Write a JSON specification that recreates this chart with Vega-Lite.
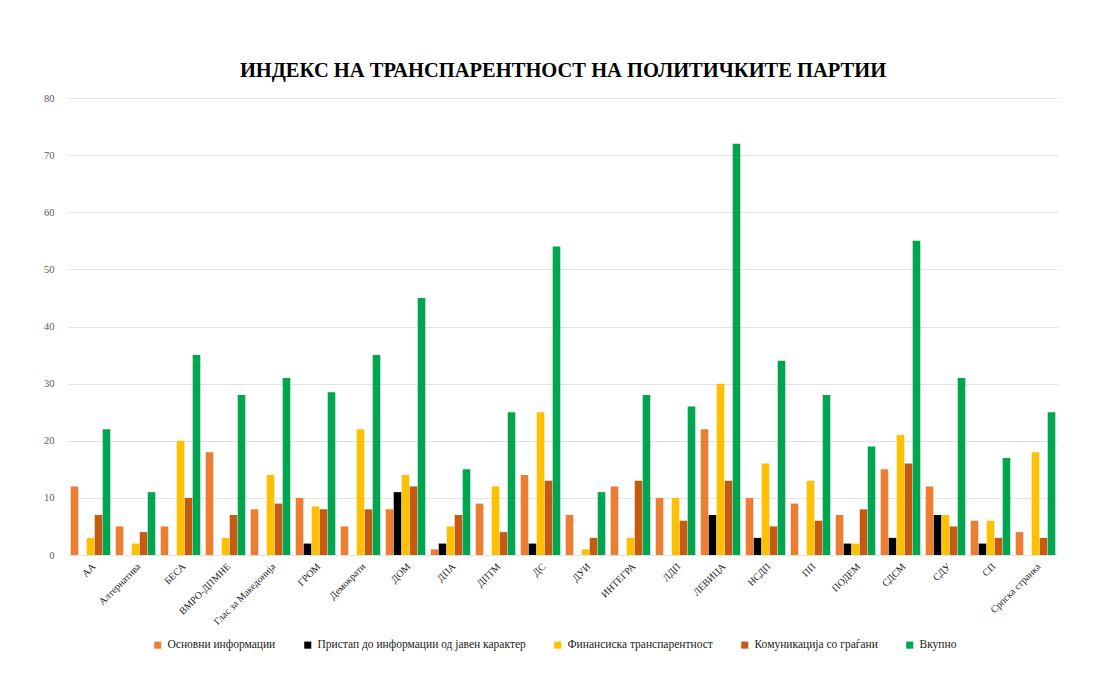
{
  "$schema": "https://vega.github.io/schema/vega-lite/v6.json",
  "width": 990,
  "height": 457,
  "autosize": {"type": "none"},
  "padding": {"left": 68, "top": 98, "right": 39, "bottom": 122},
  "background": "white",
  "title": {
    "text": "ИНДЕКС НА ТРАНСПАРЕНТНОСТ НА ПОЛИТИЧКИТЕ ПАРТИИ",
    "font": "Liberation Serif",
    "fontSize": 20.5,
    "fontWeight": "bold",
    "color": "#000000",
    "anchor": "middle",
    "offset": 12
  },
  "data": {
    "values": [
      {"p": "АА", "Основни информации": 12, "Пристап до информации од јавен карактер": 0, "Финансиска транспарентност": 3, "Комуникација со граѓани": 7, "Вкупно": 22},
      {"p": "Алтернатива", "Основни информации": 5, "Пристап до информации од јавен карактер": 0, "Финансиска транспарентност": 2, "Комуникација со граѓани": 4, "Вкупно": 11},
      {"p": "БЕСА", "Основни информации": 5, "Пристап до информации од јавен карактер": 0, "Финансиска транспарентност": 20, "Комуникација со граѓани": 10, "Вкупно": 35},
      {"p": "ВМРО-ДПМНЕ", "Основни информации": 18, "Пристап до информации од јавен карактер": 0, "Финансиска транспарентност": 3, "Комуникација со граѓани": 7, "Вкупно": 28},
      {"p": "Глас за Македонија", "Основни информации": 8, "Пристап до информации од јавен карактер": 0, "Финансиска транспарентност": 14, "Комуникација со граѓани": 9, "Вкупно": 31},
      {"p": "ГРОМ", "Основни информации": 10, "Пристап до информации од јавен карактер": 2, "Финансиска транспарентност": 8.5, "Комуникација со граѓани": 8, "Вкупно": 28.5},
      {"p": "Демократи", "Основни информации": 5, "Пристап до информации од јавен карактер": 0, "Финансиска транспарентност": 22, "Комуникација со граѓани": 8, "Вкупно": 35},
      {"p": "ДОМ", "Основни информации": 8, "Пристап до информации од јавен карактер": 11, "Финансиска транспарентност": 14, "Комуникација со граѓани": 12, "Вкупно": 45},
      {"p": "ДПА", "Основни информации": 1, "Пристап до информации од јавен карактер": 2, "Финансиска транспарентност": 5, "Комуникација со граѓани": 7, "Вкупно": 15},
      {"p": "ДПТМ", "Основни информации": 9, "Пристап до информации од јавен карактер": 0, "Финансиска транспарентност": 12, "Комуникација со граѓани": 4, "Вкупно": 25},
      {"p": "ДС", "Основни информации": 14, "Пристап до информации од јавен карактер": 2, "Финансиска транспарентност": 25, "Комуникација со граѓани": 13, "Вкупно": 54},
      {"p": "ДУИ", "Основни информации": 7, "Пристап до информации од јавен карактер": 0, "Финансиска транспарентност": 1, "Комуникација со граѓани": 3, "Вкупно": 11},
      {"p": "ИНТЕГРА", "Основни информации": 12, "Пристап до информации од јавен карактер": 0, "Финансиска транспарентност": 3, "Комуникација со граѓани": 13, "Вкупно": 28},
      {"p": "ЛДП", "Основни информации": 10, "Пристап до информации од јавен карактер": 0, "Финансиска транспарентност": 10, "Комуникација со граѓани": 6, "Вкупно": 26},
      {"p": "ЛЕВИЦА", "Основни информации": 22, "Пристап до информации од јавен карактер": 7, "Финансиска транспарентност": 30, "Комуникација со граѓани": 13, "Вкупно": 72},
      {"p": "НСДП", "Основни информации": 10, "Пристап до информации од јавен карактер": 3, "Финансиска транспарентност": 16, "Комуникација со граѓани": 5, "Вкупно": 34},
      {"p": "ПП", "Основни информации": 9, "Пристап до информации од јавен карактер": 0, "Финансиска транспарентност": 13, "Комуникација со граѓани": 6, "Вкупно": 28},
      {"p": "ПОДЕМ", "Основни информации": 7, "Пристап до информации од јавен карактер": 2, "Финансиска транспарентност": 2, "Комуникација со граѓани": 8, "Вкупно": 19},
      {"p": "СДСМ", "Основни информации": 15, "Пристап до информации од јавен карактер": 3, "Финансиска транспарентност": 21, "Комуникација со граѓани": 16, "Вкупно": 55},
      {"p": "СДУ", "Основни информации": 12, "Пристап до информации од јавен карактер": 7, "Финансиска транспарентност": 7, "Комуникација со граѓани": 5, "Вкупно": 31},
      {"p": "СП", "Основни информации": 6, "Пристап до информации од јавен карактер": 2, "Финансиска транспарентност": 6, "Комуникација со граѓани": 3, "Вкупно": 17},
      {"p": "Српска странка", "Основни информации": 4, "Пристап до информации од јавен карактер": 0, "Финансиска транспарентност": 18, "Комуникација со граѓани": 3, "Вкупно": 25}
    ]
  },
  "transform": [
    {"fold": ["Основни информации", "Пристап до информации од јавен карактер", "Финансиска транспарентност", "Комуникација со граѓани", "Вкупно"], "as": ["series", "value"]}
  ],
  "mark": {"type": "bar"},
  "encoding": {
    "x": {
      "field": "p",
      "type": "nominal",
      "sort": null,
      "title": null,
      "scale": {"paddingInner": 0.12, "paddingOuter": 0.06},
      "axis": {
        "labelAngle": -45,
        "labelFont": "Liberation Serif",
        "labelFontSize": 10,
        "labelColor": "#222222",
        "ticks": false,
        "domain": false,
        "labelPadding": 6
      }
    },
    "xOffset": {
      "field": "series",
      "type": "nominal",
      "sort": ["Основни информации", "Пристап до информации од јавен карактер", "Финансиска транспарентност", "Комуникација со граѓани", "Вкупно"],
      "scale": {"paddingInner": 0.05}
    },
    "y": {
      "field": "value",
      "type": "quantitative",
      "title": null,
      "scale": {"domain": [0, 80]},
      "axis": {
        "values": [0, 10, 20, 30, 40, 50, 60, 70, 80],
        "labelFont": "Liberation Serif",
        "labelFontSize": 10.5,
        "labelColor": "#595959",
        "ticks": false,
        "domain": false,
        "labelPadding": 14,
        "gridColor": "#e3e3e3",
        "gridWidth": 1
      }
    },
    "color": {
      "field": "series",
      "type": "nominal",
      "sort": ["Основни информации", "Пристап до информации од јавен карактер", "Финансиска транспарентност", "Комуникација со граѓани", "Вкупно"],
      "scale": {
        "domain": ["Основни информации", "Пристап до информации од јавен карактер", "Финансиска транспарентност", "Комуникација со граѓани", "Вкупно"],
        "range": ["#ED7D31", "#000000", "#FFC000", "#C55A11", "#00A550"]
      },
      "legend": {
        "orient": "none",
        "legendX": 84,
        "legendY": 541,
        "direction": "horizontal",
        "title": null,
        "symbolType": "square",
        "symbolSize": 50,
        "labelFont": "Liberation Serif",
        "labelFontSize": 11.5,
        "labelColor": "#222222",
        "columnPadding": 26,
        "labelLimit": 400
      }
    }
  },
  "config": {
    "view": {"stroke": null}
  }
}
